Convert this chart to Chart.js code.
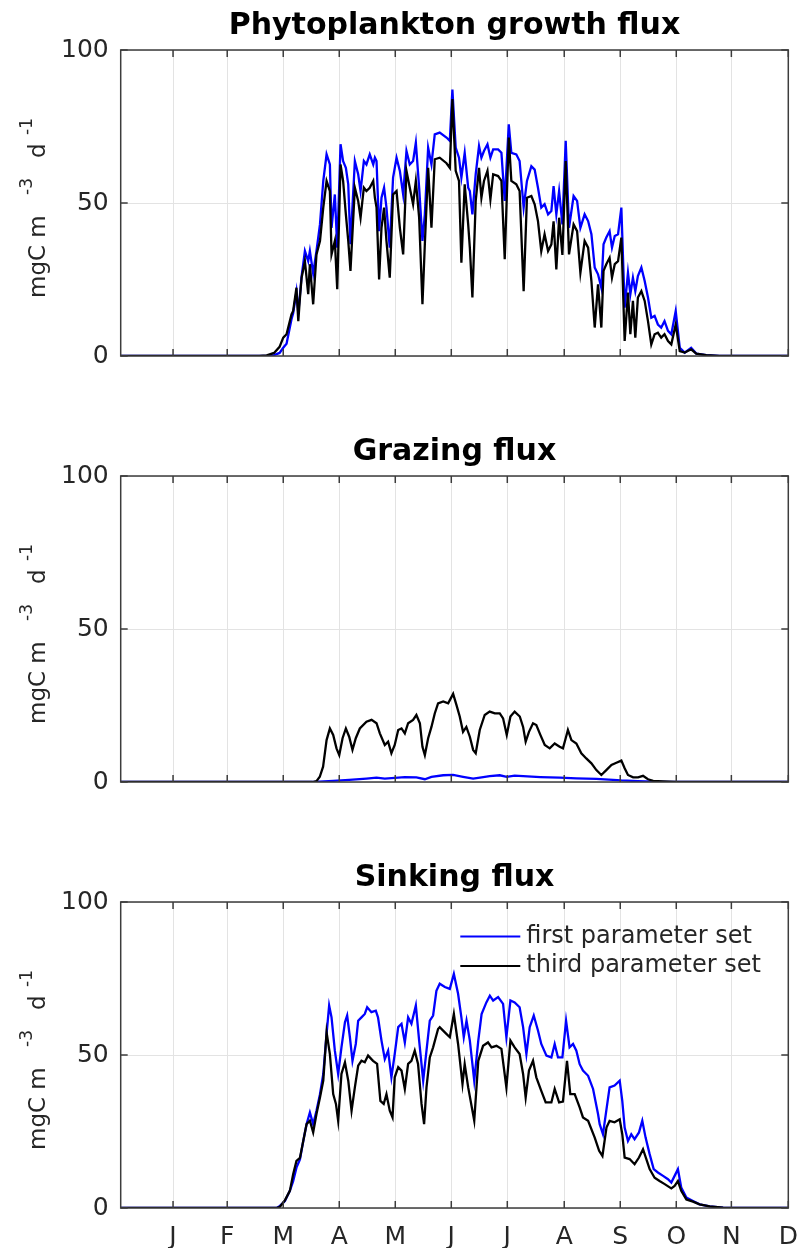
<!DOCTYPE html>
<html>
<head>
<meta charset="utf-8">
<script src="https://cdn.jsdelivr.net/npm/chart.js@4.4.1/dist/chart.umd.min.js"></script>
<style>
  html, body { margin: 0; padding: 0; background: #fff; }
  #page { position: relative; width: 798px; height: 1248px; overflow: hidden; background: #fff; }
  .panel { position: absolute; left: 0; width: 798px; }
  canvas { display: block; }
</style>
</head>
<body>
<div id="page">
  <div class="panel" style="top:0"><canvas id="growth" width="798" height="400"></canvas></div>
  <div class="panel" style="top:426px"><canvas id="grazing" width="798" height="400"></canvas></div>
  <div class="panel" style="top:852px"><canvas id="sinking" width="798" height="396"></canvas></div>
</div>
<script>
// x axis is day of year (0 = 1 Jan), month gridlines as placed in the original figure
const monthTicks = [-1, 28.5, 59, 89.5, 120, 150.5, 181, 212, 242.5, 273, 303, 334];
const monthLabels = ['J', 'F', 'M', 'A', 'M', 'J', 'J', 'A', 'S', 'O', 'N', 'D'];
const yTicks = [0, 50, 100];
const seriesNames = ['first parameter set', 'third parameter set'];

// Phytoplankton growth flux (both runs read on the same days)
const growthDays = [-29.5, 46, 50, 54, 57, 59, 60.8, 63.5, 64.4, 66.2, 67.2, 68.1, 69, 70.8, 72.6, 73.5, 75.3, 77.1, 79, 80.8,
  82.6, 84.4, 85.3, 87.1, 88.4, 90.2, 91.6, 93.1, 94.4, 95.6, 98, 99.8, 101.1, 102.9, 104.3, 106.1, 108, 108.9, 109.8, 111.2,
  112.5, 113.9, 115.2, 117, 118.8, 120.7, 122.5, 124.3, 126.1, 127.9, 129.7, 131.2, 133, 134.8, 136.1, 137.9, 139.7, 141.5, 144.2, 147.9,
  149.7, 151.1, 152.9, 154.7, 156, 157.8, 159.7, 160.6, 162, 163.8, 165.6, 166.9, 168.3, 170.2, 171.8, 173.3, 176, 177.8, 179.6, 181.8,
  183.2, 185.9, 187.7, 189.9, 191.7, 194.1, 195.9, 197.7, 199.5, 201.3, 203.2, 205, 206.2, 207.7, 209.2, 211, 212.8, 214.6, 217.1, 219,
  220.8, 223.1, 225, 226.8, 228.6, 230.4, 232.2, 233.4, 234.9, 236.7, 238, 239.5, 241.3, 243.1, 244.9, 246.7, 248, 249.4, 250.7, 252.1,
  254, 255.8, 257.6, 259.4, 261.2, 263, 264.8, 266.6, 268.5, 270.3, 272.7, 274.9, 277.6, 281.1, 283.9, 289.3, 296.5, 334];
const growthFirst = [0, 0, 0, 0.3, 1, 2.7, 4, 12, 14, 21, 14, 20, 26, 34.3, 31, 34.3, 27, 34.3, 43, 57.2,
  65.9, 62.6, 41.9, 52.8, 35.4, 69.2, 63.7, 61.5, 56.1, 36.5, 63.7, 59.4, 53.9, 63.7, 62.6, 65.9, 62.6, 64.8, 63.7, 40.8,
  51.7, 55, 48.5, 35.4, 58.3, 64.8, 60.5, 52.8, 67, 62.6, 63.7, 69.7, 55, 37.6, 46.3, 68.1, 62.6, 72.4, 73, 71.4,
  70.3, 87.1, 68.1, 64.8, 58.3, 66.4, 55, 53.9, 46.3, 59.4, 68.6, 64.8, 67, 69.2, 64.8, 67.5, 67.5, 66.4, 50.7, 75.7,
  66.4, 65.9, 63.7, 48.5, 57.2, 62, 60.9, 55, 48.5, 49.6, 46.3, 47.4, 55.5, 46.3, 53.9, 43, 70.3, 41.9, 52.3, 50.7,
  41.9, 46.3, 44.1, 39.8, 28.9, 26.7, 22.3, 36.5, 38.7, 40.8, 35.4, 39.2, 39.8, 48.5, 15.8, 27.2, 20.2, 25.6, 21.2, 26.1,
  28.9, 24.5, 19.1, 12.5, 13.1, 10.3, 9.3, 11.4, 8.2, 7.1, 14.7, 2.7, 1.1, 2.7, 0.8, 0.3, 0, 0];
const growthThird = [0, 0, 0.2, 1, 3, 6, 7.1, 13.6, 14.7, 22.3, 11.4, 19.1, 25.6, 31, 20.2, 30, 16.9, 33.2, 37.6, 48.5,
  57.2, 53.9, 33.2, 37.6, 21.8, 62.6, 57.2, 46.3, 37.6, 27.8, 55, 50.7, 45.2, 55, 53.9, 55, 57.2, 51.7, 48.5, 25,
  41.9, 48.5, 37.6, 25.6, 52.8, 53.9, 41.9, 33.2, 60.5, 55, 49.6, 57.2, 45.2, 16.9, 36.5, 61.5, 41.9, 64.3, 64.8, 63,
  61.5, 84, 60.5, 57.2, 30.5, 56.1, 43, 35.4, 19.1, 50.7, 61.5, 51.7, 57.2, 60.5, 51.2, 59.4, 58.8, 57.2, 31.6, 71.4,
  57.2, 56.1, 53.9, 21.2, 51.7, 52.3, 49.6, 44.1, 34.3, 39.8, 34.3, 36.5, 44, 28.3, 45.2, 33, 63.7, 33.2, 43, 40.8,
  27.2, 37.6, 35.4, 24.5, 9.3, 23.4, 9.3, 27.8, 30, 32.1, 25.6, 30, 31, 38.7, 4.9, 20.7, 7.1, 18, 6, 19.1,
  21.2, 18, 11.4, 3.8, 7.1, 7.6, 6, 7.1, 4.9, 3.8, 10.3, 1.6, 1.1, 2.2, 0.8, 0.3, 0, 0];

// Grazing flux
const grazingFirstDays = [-29.5, 76, 86.2, 94.9, 104.3, 109.8, 114.3, 125.2, 131.5, 136.1, 139.7, 146.1, 151.5, 156.9, 162.4,
  167, 171.4, 176.9, 180.7, 185, 189.6, 199, 209.5, 218.6, 229.5, 243.1, 252.2, 260.4, 268, 334];
const grazingFirst = [0, 0, 0.4, 0.7, 1.1, 1.4, 1.1, 1.6, 1.5, 0.9, 1.7, 2.2, 2.3, 1.7, 1.1,
  1.5, 1.9, 2.2, 1.7, 2.1, 1.9, 1.6, 1.4, 1.2, 1, 0.5, 0.3, 0.1, 0, 0];
const grazingThirdDays = [-29.5, 75, 77.1, 78.9, 80.7, 82.6, 84.4, 86.2, 88, 89.5, 91.3, 93.1, 94.9, 96.7, 98.5, 100.7,
  104.3, 107.1, 109.8, 111.6, 114.3, 116.1, 117.9, 119.7, 121.6, 123.4, 125.2, 127, 129.7, 131.5, 133.4, 134.8, 136.1,
  137.9, 139.7, 141.5, 143.3, 146.1, 148.8, 151.5, 153.3, 155.1, 156.9, 158.7, 160.6, 162.4, 163.8, 166, 168.7, 171.4,
  174.2, 176.9, 178.7, 180.7, 182.7, 185, 187.8, 189.6, 191, 192.8, 195, 196.8, 199, 201.4, 204.1, 206.8, 209.5, 211.3,
  212.8, 214, 215.9, 218.6, 221.3, 224, 226.8, 229.5, 232.2, 234.9, 237.7, 240.4, 243.1, 244.9, 246.7, 249.5, 252.2,
  254.9, 257.6, 260.4, 265.8, 273.1, 334];
const grazingThird = [0, 0, 0.3, 1.7, 5, 13.7, 17.5, 15.4, 11, 8.8, 14.3, 17.5, 14.8, 10.5, 14.3, 17.5,
  19.7, 20.3, 19.2, 15.9, 12.1, 13.2, 9.4, 12.1, 17, 17.5, 15.9, 19.2, 20.3, 21.9, 19.2, 11.5, 8.8,
  14.3, 18, 22.4, 25.7, 26.3, 25.7, 28.8, 25.2, 21.4, 16.4, 18, 14.8, 10.5, 9.4, 17, 21.9, 23,
  22.4, 22.4, 20.8, 15.4, 21.4, 23, 21.4, 18, 13.2, 16.4, 19.2, 18.6, 15.4, 12.1, 11, 12.6, 11.5, 11,
  14.3, 17, 13.7, 12.6, 9.4, 7.7, 6.1, 3.9, 2.3, 3.9, 5.6, 6.3, 7, 4.5, 2.3, 1.5, 1.5,
  2, 0.9, 0.4, 0.2, 0, 0];

// Sinking flux
const sinkingFirstDays = [-29.5, 55.4, 57.2, 59.9, 62.6, 64.4, 66.2, 68.1, 69.9, 71.7, 73.5, 75.3, 77.1, 79, 80.8, 82.6,
  84, 85.3, 87.1, 88.9, 90.7, 92.6, 93.8, 95.3, 96.7, 98.5, 99.8, 101.6, 103.4, 104.7, 107, 109.4, 110.6, 112.5, 114.3,
  116.1, 117.9, 119.7, 121.6, 123.4, 125.2, 127, 128.8, 131.2, 133, 135.2, 137, 138.8, 140.6, 142.4, 144.2, 147, 149.7,
  151.9, 154.2, 156, 157.3, 158.8, 160.6, 163, 165.2, 167, 169.6, 171.5, 173.3, 176, 178.7, 180.5, 182.7, 185, 187.7,
  189.6, 191.4, 193.2, 195.4, 197.7, 199.5, 202.3, 205, 206.8, 208.6, 211, 213, 214.9, 216.8, 218.6, 220.4, 222.2, 225,
  227.7, 230.4, 231.3, 233.1, 234.9, 236.7, 239.4, 242.2, 243.6, 244.9, 246.7, 248.5, 250.3, 252.7, 254.5, 256.3, 258.5,
  260.7, 263, 265.8, 268.5, 270.3, 272.1, 273.9, 275.7, 278.5, 282.1, 285.7, 291.2, 298.5, 304, 334];
const sinkingFirst = [0, 0, 0.7, 2.3, 5.6, 8.8, 13.2, 15.9, 21.9, 27.4, 31.2, 27.4, 31.8, 37.2, 43.8, 56.9,
  66.2, 62.3, 51.4, 43.8, 52.5, 60.7, 62.9, 55.8, 48.1, 53.6, 61.2, 62.3, 63.4, 65.6, 64, 64.5, 62.3, 54.7, 48.7,
  51.4, 42.7, 50.3, 59.1, 60.2, 54.1, 62.3, 60.2, 66.2, 54.7, 41.6, 51.4, 61.2, 62.9, 71, 73.3, 72.2, 71.6,
  76.5, 70, 62.3, 55.8, 61.2, 54.7, 41.6, 54.7, 63.4, 67.2, 69.4, 67.8, 68.9, 66.7, 55.8, 67.8, 67.2, 65.6,
  59.1, 50.3, 59.1, 62.9, 58, 53.6, 49.8, 49.2, 53.6, 49.2, 49.2, 61.2, 52.5, 53.6, 51.4, 47, 44.9, 43.2,
  38.9, 30.7, 27.4, 24.1, 31.8, 39.4, 40, 41.6, 35, 26.3, 21.9, 24.1, 22.5, 24.7, 28.5, 23, 17.6,
  12.7, 11.6, 10.5, 9.4, 8.3, 10.5, 12.7, 6.7, 3.4, 2.3, 1.2, 0.5, 0.1, 0, 0];
const sinkingThirdDays = [-29.5, 55.4, 57.2, 59.9, 62.6, 64.4, 66.2, 68.1, 69.9, 71.7, 73.5, 75.3, 77.1, 79, 80.8, 82.6,
  84.4, 86.2, 87.7, 88.9, 90.7, 92.6, 94.4, 96.2, 98, 99.8, 101.6, 103.4, 105.2, 107.9, 110.1, 111.9, 113.7, 115.2, 117,
  118.5, 119.7, 121.6, 123.4, 125.2, 127, 128.8, 130.6, 132.4, 134.3, 135.7, 137, 138.8, 140.6, 143.3, 144.2, 147, 149.7,
  151.9, 154.2, 156.6, 157.8, 159.7, 163, 165.2, 167.8, 170.5, 172.4, 175.1, 177.8, 180.5, 182.7, 185, 187.7, 189.6,
  191, 192.8, 195, 196.8, 199.5, 201.9, 205, 206.8, 209.2, 211.3, 213.5, 215.3, 217.7, 220.4, 222.2, 225, 228.6, 231,
  232.8, 235, 236.7, 239.4, 242.2, 243.6, 244.9, 247.6, 250.3, 252.7, 254.9, 256.7, 258.5, 261.2, 263.9, 266.7, 270.3,
  272.1, 273.9, 275.7, 278.5, 282.1, 285.7, 291.2, 298.5, 304, 334];
const sinkingThird = [0, 0, 0.4, 2.5, 5.6, 11, 15.4, 16.4, 21.9, 27.4, 28.5, 24.7, 30.7, 36.1, 41.6, 57.4,
  50.3, 37.2, 34, 28.5, 43.8, 47.6, 41.6, 31.8, 39.4, 46.5, 48.1, 47.6, 49.8, 48.1, 47.1, 35, 34, 37.2, 31.8,
  29.6, 42.7, 46, 44.9, 38.9, 47.1, 48.1, 51.4, 47.1, 34, 27.4, 39.4, 49.2, 52.5, 58.5, 59.1, 57.4, 55.8,
  63.4, 53.6, 40.5, 47, 39.4, 28.5, 48.1, 53, 54.1, 52.5, 53, 52, 39.4, 54.7, 52.5, 50.3, 43.8,
  36.1, 44.9, 48.1, 42.7, 38.3, 34.5, 34.5, 38.9, 34.5, 34.8, 48.1, 37.2, 37.2, 32.9, 29.6, 28.5, 23, 18.7,
  17, 26.3, 28.5, 28, 29, 24.1, 16.5, 16, 14.3, 16.5, 19.2, 16, 12.7, 9.9, 8.8, 7.8, 6.4,
  7.2, 8.8, 5.6, 2.8, 2.1, 1.2, 0.5, 0.1, 0, 0];

const FONT = 'DejaVu Sans';
const TEXT = '#262626';
const GRID = '#e3e3e3';
const FRAME = '#3c3c3c';
const X_MIN = -29.5;
const X_MAX = 334;
// wanted plot box inside every panel canvas
const PLOT_LEFT = 120.7;
const PLOT_RIGHT = 788.3;
const PLOT_TOP = 50;
const PLOT_BOTTOM = 356;

// y label "mgC m^-3 d^-1": pieces with their offset along the text line
const yLabelParts = [
    { text: 'mgC m', at: 0, sup: false },
    { text: '-3', at: 103, sup: true },
    { text: 'd', at: 140, sup: false },
    { text: '-1', at: 163, sup: true }
];

function points(days, values) {
    return days.map((d, i) => ({ x: d, y: values[i] }));
}

// MATLAB-style box with inward tick marks
const framePlugin = {
    id: 'frame',
    afterDatasetsDraw(chart) {
        const { ctx, chartArea: a, scales: { x, y } } = chart;
        ctx.save();
        ctx.strokeStyle = FRAME;
        ctx.lineWidth = 1.5;
        ctx.strokeRect(a.left, a.top, a.right - a.left, a.bottom - a.top);
        ctx.beginPath();
        x.ticks.forEach(t => {
            const p = x.getPixelForValue(t.value);
            ctx.moveTo(p, a.bottom); ctx.lineTo(p, a.bottom - 7);
            ctx.moveTo(p, a.top); ctx.lineTo(p, a.top + 7);
        });
        y.ticks.forEach(t => {
            const p = y.getPixelForValue(t.value);
            ctx.moveTo(a.left, p); ctx.lineTo(a.left + 7, p);
            ctx.moveTo(a.right, p); ctx.lineTo(a.right - 7, p);
        });
        ctx.stroke();
        ctx.restore();
    }
};

// rotated y label with real superscripts
const yLabelPlugin = {
    id: 'yLabel',
    afterDraw(chart) {
        const { ctx, chartArea: a } = chart;
        const mid = (a.top + a.bottom) / 2;
        ctx.save();
        ctx.translate(45, mid + 95);
        ctx.rotate(-Math.PI / 2);
        ctx.fillStyle = TEXT;
        ctx.textAlign = 'left';
        ctx.textBaseline = 'alphabetic';
        yLabelParts.forEach(p => {
            ctx.font = (p.sup ? 17 : 23) + 'px "' + FONT + '"';
            ctx.fillText(p.text, p.at, p.sup ? -13 : 0);
        });
        ctx.restore();
    }
};

// legend drawn inside the top-right corner, without a box
const insideLegend = {
    id: 'insideLegend',
    afterDraw(chart, args, opts) {
        if (!opts.show) return;
        const { ctx, chartArea: a } = chart;
        ctx.save();
        ctx.font = '24px "' + FONT + '"';
        ctx.textBaseline = 'middle';
        ctx.textAlign = 'left';
        chart.data.datasets.forEach((ds, i) => {
            const yy = a.top + 34.5 + i * 29.5;
            ctx.strokeStyle = ds.borderColor;
            ctx.lineWidth = 2.2;
            ctx.beginPath();
            ctx.moveTo(a.right - 328, yy);
            ctx.lineTo(a.right - 268, yy);
            ctx.stroke();
            ctx.fillStyle = TEXT;
            ctx.fillText(ds.label, a.right - 262, yy);
        });
        ctx.restore();
    }
};

function makePanel(id, title, first, third, showMonths, showLegend) {
    const canvas = document.getElementById(id);
    const axisHeight = canvas.height - PLOT_BOTTOM;
    const padding = { top: 0, right: canvas.width - PLOT_RIGHT, bottom: 0, left: 0 };
    const chart = new Chart(canvas, {
        type: 'line',
        data: {
            datasets: [
                { label: seriesNames[0], data: first, borderColor: '#0000ff', order: 1 },
                { label: seriesNames[1], data: third, borderColor: '#000000', order: 0 }
            ]
        },
        options: {
            responsive: false,
            animation: false,
            events: [],
            layout: { padding: padding },
            elements: {
                point: { radius: 0 },
                line: { tension: 0, borderWidth: 2.3, fill: false }
            },
            plugins: {
                legend: { display: false },
                tooltip: { enabled: false },
                insideLegend: { show: showLegend },
                title: {
                    display: true,
                    text: title,
                    fullSize: false,
                    color: '#000',
                    font: { family: FONT, size: 30, weight: 'bold', lineHeight: 1.2 },
                    padding: { top: 8, bottom: 6 }
                }
            },
            scales: {
                x: {
                    type: 'linear',
                    min: X_MIN,
                    max: X_MAX,
                    afterBuildTicks: axis => { axis.ticks = monthTicks.map(v => ({ value: v })); },
                    afterFit: axis => { axis.height = axisHeight; },
                    // invisible tick marks push the month labels down without widening the side padding
                    grid: { color: GRID, lineWidth: 1, drawTicks: true, tickLength: 14, tickColor: 'rgba(0,0,0,0)' },
                    border: { display: false },
                    ticks: {
                        display: showMonths,
                        autoSkip: false,
                        maxRotation: 0,
                        padding: 0,
                        color: TEXT,
                        font: { family: FONT, size: 25 },
                        callback: (v, i) => monthLabels[i]
                    }
                },
                y: {
                    min: 0,
                    max: 100,
                    afterBuildTicks: axis => { axis.ticks = yTicks.map(v => ({ value: v })); },
                    afterFit: axis => { axis.width = PLOT_LEFT; },
                    grid: { color: GRID, lineWidth: 1, drawTicks: false },
                    border: { display: false },
                    ticks: { padding: 12, color: TEXT, font: { family: FONT, size: 25 } }
                }
            }
        },
        plugins: [framePlugin, yLabelPlugin, insideLegend]
    });

    // pin the plot box to the same place in every panel
    const a = chart.chartArea;
    padding.right += a.right - PLOT_RIGHT;
    padding.left += PLOT_LEFT - a.left;
    padding.top += PLOT_TOP - a.top;
    padding.bottom += a.bottom - PLOT_BOTTOM;
    chart.update();
    return chart;
}

makePanel('growth', 'Phytoplankton growth flux',
    points(growthDays, growthFirst), points(growthDays, growthThird), false, false);
makePanel('grazing', 'Grazing flux',
    points(grazingFirstDays, grazingFirst), points(grazingThirdDays, grazingThird), false, false);
makePanel('sinking', 'Sinking flux',
    points(sinkingFirstDays, sinkingFirst), points(sinkingThirdDays, sinkingThird), true, true);
</script>
</body>
</html>
